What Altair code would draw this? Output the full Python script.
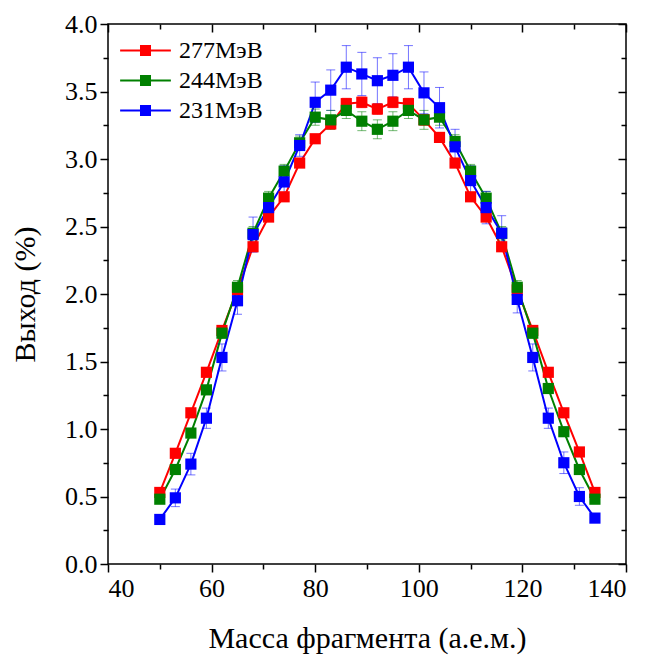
import altair as alt
import pandas as pd

# ---------------- data ----------------
masses = [50, 53, 56, 59, 62, 65, 68, 71, 74, 77, 80, 83, 86, 89, 92,
          95, 98, 101, 104, 107, 110, 113, 116, 119, 122, 125, 128, 131, 134]

series_names = ["277МэВ", "244МэВ", "231МэВ"]
series_colors = ["#ff0000", "#008000", "#0000ff"]

y277 = [0.53, 0.82, 1.12, 1.42, 1.73, 2.03, 2.35, 2.57, 2.72, 2.97, 3.15, 3.26, 3.41, 3.42, 3.37,
        3.42, 3.41, 3.29, 3.16, 2.97, 2.72, 2.57, 2.35, 2.03, 1.73, 1.42, 1.12, 0.83, 0.53]
y244 = [0.48, 0.70, 0.97, 1.29, 1.71, 2.05, 2.45, 2.71, 2.91, 3.12, 3.31, 3.29, 3.36, 3.28, 3.22,
        3.28, 3.36, 3.29, 3.31, 3.13, 2.91, 2.71, 2.45, 2.05, 1.71, 1.30, 0.98, 0.70, 0.48]
y231 = [0.33, 0.49, 0.74, 1.08, 1.53, 1.95, 2.44, 2.64, 2.83, 3.10, 3.42, 3.51, 3.68, 3.63, 3.58,
        3.62, 3.68, 3.49, 3.38, 3.09, 2.84, 2.64, 2.45, 1.96, 1.53, 1.08, 0.75, 0.50, 0.34]

e277 = [0.02, 0.02, 0.02, 0.02, 0.03, 0.03, 0.03, 0.03, 0.03, 0.03, 0.03, 0.04, 0.04, 0.04, 0.04,
        0.04, 0.04, 0.04, 0.03, 0.03, 0.03, 0.03, 0.03, 0.03, 0.03, 0.02, 0.02, 0.02, 0.02]
e244 = [0.02, 0.02, 0.02, 0.03, 0.04, 0.05, 0.05, 0.05, 0.05, 0.05, 0.06, 0.07, 0.06, 0.07, 0.07,
        0.07, 0.06, 0.07, 0.06, 0.05, 0.05, 0.05, 0.05, 0.05, 0.04, 0.03, 0.02, 0.02, 0.02]
e231 = [0.02, 0.065, 0.08, 0.075, 0.10, 0.10, 0.13, 0.10, 0.12, 0.08, 0.15, 0.15, 0.16, 0.16, 0.17,
        0.16, 0.16, 0.155, 0.15, 0.13, 0.11, 0.12, 0.13, 0.10, 0.10, 0.075, 0.08, 0.065, 0.02]

x_major = [40, 60, 80, 100, 120, 140]
x_minor = [50, 70, 90, 110, 130]
y_major = [0.0, 0.5, 1.0, 1.5, 2.0, 2.5, 3.0, 3.5, 4.0]
y_minor = [0.25, 0.75, 1.25, 1.75, 2.25, 2.75, 3.25, 3.75]

rows = []
for name, ys, es in zip(series_names, [y277, y244, y231], [e277, e244, e231]):
    for m, v, e in zip(masses, ys, es):
        rows.append({"series": name, "mass": m, "value": v, "lo": v - e, "hi": v + e})
df = pd.DataFrame(rows)

# ---------------- style ----------------
FONT = "Liberation Serif"
xscale = alt.Scale(domain=[40, 140], nice=False, zero=False)
yscale = alt.Scale(domain=[0, 4.0], nice=False, zero=False)
cscale = alt.Scale(domain=series_names, range=series_colors)

# legend glyph: a line with a filled square drawn as dense strokes
legend_path = ("M-1.75,0H1.75"
               "M-0.38,-0.31H0.38M-0.38,-0.207H0.38M-0.38,-0.103H0.38"
               "M-0.38,0.103H0.38M-0.38,0.207H0.38M-0.38,0.31H0.38")

x_axis = alt.Axis(values=x_major, format="d", title="Масса фрагмента (а.е.м.)",
                  orient="bottom", tickSize=8, tickWidth=1.5, tickColor="black",
                  domain=False, grid=False, labelPadding=3, titlePadding=22,
                  labelFont=FONT, labelFontSize=26, labelColor="black",
                  titleFont=FONT, titleFontSize=30, titleFontWeight="normal", titleColor="black")
y_axis = alt.Axis(values=y_major, format=".1f", title="Выход (%)",
                  orient="left", tickSize=8, tickWidth=1.5, tickColor="black",
                  domain=False, grid=False, labelPadding=3, titlePadding=24,
                  labelFont=FONT, labelFontSize=26, labelColor="black",
                  titleFont=FONT, titleFontSize=30, titleFontWeight="normal", titleColor="black")

X = alt.X("mass:Q", scale=xscale, axis=x_axis)
Y = alt.Y("value:Q", scale=yscale, axis=y_axis)

base = alt.Chart(df)

lines = base.mark_line(strokeWidth=2).encode(
    x=X, y=Y,
    color=alt.Color("series:N", scale=cscale,
                    legend=alt.Legend(title=None, orient="none", legendX=22, legendY=11,
                                      symbolType=legend_path, symbolSize=841,
                                      symbolStrokeWidth=2, symbolOpacity=1,
                                      labelFont=FONT, labelFontSize=24,
                                      labelColor="black", labelOffset=18, rowPadding=2,
                                      padding=0, labelLimit=300)))

err_stroke = alt.Stroke("series:N", scale=alt.Scale(domain=series_names, range=series_colors),
                        legend=None)
err_fill = alt.Fill("series:N", scale=alt.Scale(domain=series_names, range=series_colors),
                    legend=None)

err_rule = base.mark_rule(strokeWidth=1, strokeOpacity=0.55).encode(
    x=X, y=alt.Y("lo:Q", scale=yscale, axis=y_axis), y2="hi:Q", stroke=err_stroke)
err_lo = base.mark_tick(orient="horizontal", size=9, thickness=1, fillOpacity=0.55,
                        opacity=1).encode(
    x=X, y=alt.Y("lo:Q", scale=yscale, axis=y_axis), fill=err_fill)
err_hi = base.mark_tick(orient="horizontal", size=9, thickness=1, fillOpacity=0.55,
                        opacity=1).encode(
    x=X, y=alt.Y("hi:Q", scale=yscale, axis=y_axis), fill=err_fill)

points = base.mark_point(shape="square", filled=True, size=125, opacity=1).encode(
    x=X, y=Y, color=alt.Color("series:N", scale=cscale))

main = alt.layer(lines, err_rule, err_lo, err_hi, points)

dummy = alt.Chart(df).mark_point(opacity=0)


def tick_axis(orient, values, size, offset):
    return alt.Axis(values=values, orient=orient, tickSize=size, tickWidth=1.5,
                    tickColor="black", labels=False, domain=False, grid=False,
                    title=None, offset=offset)


minor_bl = dummy.encode(
    x=alt.X("mass:Q", scale=xscale, axis=tick_axis("bottom", x_minor, 5, 0)),
    y=alt.Y("value:Q", scale=yscale, axis=tick_axis("left", y_minor, 5, 0)))
major_tr = dummy.encode(
    x=alt.X("mass:Q", scale=xscale, axis=tick_axis("top", x_major, 8, -8)),
    y=alt.Y("value:Q", scale=yscale, axis=tick_axis("right", y_major, 8, -8)))
minor_tr = dummy.encode(
    x=alt.X("mass:Q", scale=xscale, axis=tick_axis("top", x_minor, 5, -5)),
    y=alt.Y("value:Q", scale=yscale, axis=tick_axis("right", y_minor, 5, -5)))

chart = alt.layer(main, minor_bl, major_tr, minor_tr).resolve_axis(
    x="independent", y="independent"
).properties(
    width=518, height=540,
    padding={"left": 100, "top": 16, "right": 14, "bottom": 97},
    autosize=alt.AutoSizeParams(type="none"),
    background="white",
).configure_view(stroke="black", strokeWidth=1.5)

chart.save("out.html", embed_options={"renderer": "svg", "actions": False})
